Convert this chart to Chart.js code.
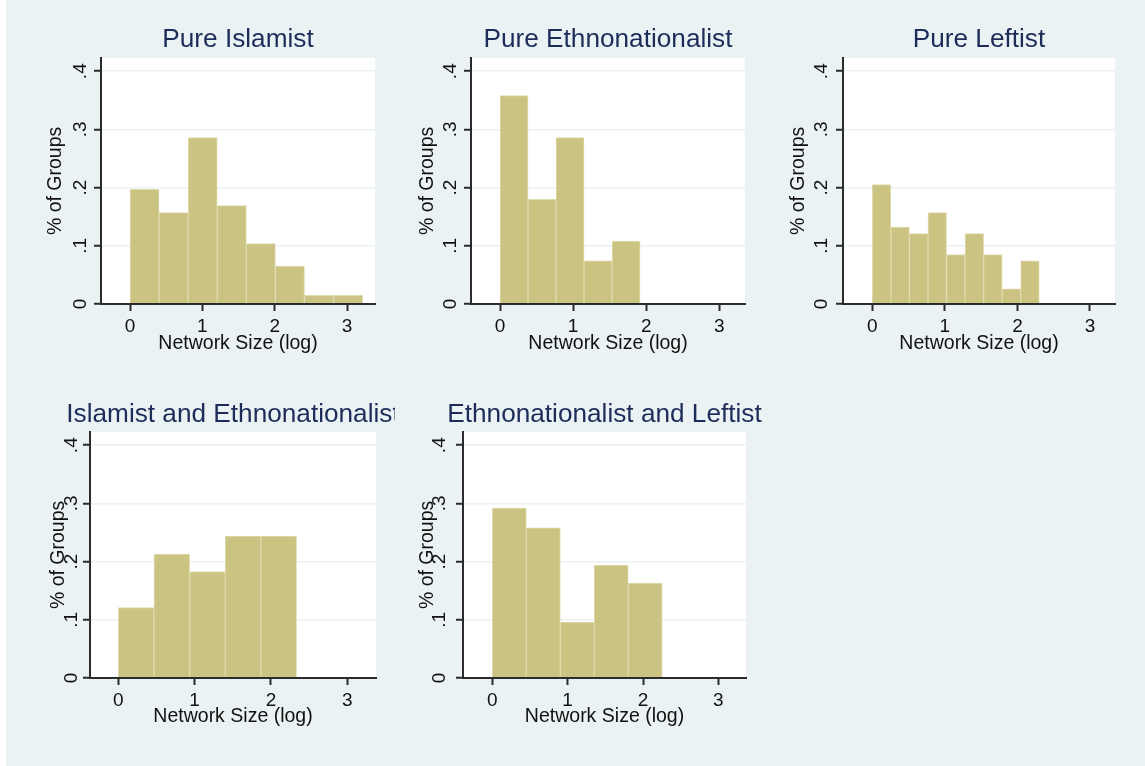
<!DOCTYPE html>
<html>
<head>
<meta charset="utf-8">
<title>Network Size by Ideology</title>
<script src="https://cdn.jsdelivr.net/npm/chart.js@4.4.1/dist/chart.umd.min.js"></script>
<style>
  html, body { margin: 0; padding: 0; background: #ffffff; overflow: hidden; width: 1145px; height: 766px; }
  #frame { position: absolute; left: 6px; top: 0; width: 1139px; height: 766px; background: #eaf2f3; }
  .panel { position: absolute; overflow: hidden; }
  .panel canvas { position: absolute; left: 0; top: 0; }
</style>
</head>
<body>
<div id="frame"></div>
<script>
// ---- data: share of groups per log network-size bin ----
const panelTitles = [
  'Pure Islamist',
  'Pure Ethnonationalist',
  'Pure Leftist',
  'Islamist and Ethnonationalist',
  'Ethnonationalist and Leftist'
];
const binStarts = [0, 0, 0, 0, 0];
const binWidths = [0.402, 0.383, 0.2557, 0.467, 0.451];

const pureIslamist = [0.197, 0.157, 0.286, 0.169, 0.104, 0.065, 0.015, 0.015];
const pureEthnonationalist = [0.358, 0.180, 0.286, 0.074, 0.108];
const pureLeftist = [0.205, 0.132, 0.121, 0.157, 0.085, 0.121, 0.085, 0.026, 0.074];
const islamistEthnonationalist = [0.121, 0.213, 0.183, 0.244, 0.244];
const ethnonationalistLeftist = [0.292, 0.258, 0.096, 0.194, 0.163];

const xTickValues = [0, 1, 2, 3];
const xTickLabels = ['0', '1', '2', '3'];
const yTickValues = [0, 0.1, 0.2, 0.3, 0.4];
const yTickLabels = ['0', '.1', '.2', '.3', '.4'];
const xAxisTitle = 'Network Size (log)';
const yAxisTitle = '% of Groups';

const panelValues = [pureIslamist, pureEthnonationalist, pureLeftist, islamistEthnonationalist, ethnonationalistLeftist];

// ---- styling ----
const FONT = '"Liberation Sans", Arial, Helvetica, sans-serif';
const TITLE_COLOR = '#1e2c5a';
const TEXT_COLOR = '#111111';
const AXIS_COLOR = '#2b2b2b';
const GRID_COLOR = '#eaf2f3';
const BAR_FILL = '#cac382';
const BAR_EDGE = '#e0dbad';
const SIDE = 61; // width reserved for the y axis (mirrored on the right so titles centre over the plot)

// plot-region placement for each panel (page pixels) and axis extents
const layouts = [
  { left: 101, right: 375, top: 58,  bottom: 304, canvasTop: 15,  clipRight: null, xMin: -0.401, xMax: 3.387, yTitlePad: 3.6,  yTickPad: 5.4, tPadTop: 9.2, tPadBottom: 2.2, xH: 51 },
  { left: 471, right: 745, top: 58,  bottom: 304, canvasTop: 15,  clipRight: null, xMin: -0.397, xMax: 3.350, yTitlePad: 5.6,  yTickPad: 5.4, tPadTop: 9.2, tPadBottom: 2.2, xH: 51 },
  { left: 843, right: 1115, top: 58, bottom: 304, canvasTop: 15,  clipRight: null, xMin: -0.404, xMax: 3.345, yTitlePad: 4.6,  yTickPad: 6.4, tPadTop: 9.2, tPadBottom: 2.2, xH: 51 },
  { left: 90,  right: 376, top: 432, bottom: 678, canvasTop: 390, clipRight: 395,  xMin: -0.371, xMax: 3.376, yTitlePad: 17.6, yTickPad: 3.1, tPadTop: 9.4, tPadBottom: 1.0, xH: 50 },
  { left: 463, right: 746, top: 432, bottom: 678, canvasTop: 390, clipRight: null, xMin: -0.389, xMax: 3.367, yTitlePad: 13.6, yTickPad: 8.1, tPadTop: 9.4, tPadBottom: 1.0, xH: 50 }
];

// white plotting region behind the bars
const plotBackground = {
  id: 'plotBackground',
  beforeDraw(chart) {
    const { ctx, chartArea: a } = chart;
    ctx.save();
    ctx.fillStyle = '#ffffff';
    ctx.fillRect(a.left, a.top, a.right - a.left, a.bottom - a.top);
    ctx.restore();
  }
};

function buildPanel(k) {
  const L = layouts[k];
  const canvasLeft = L.left - SIDE;
  const width = SIDE + (L.right - L.left) + SIDE;
  const height = L.bottom + L.xH - L.canvasTop;

  const holder = document.createElement('div');
  holder.className = 'panel';
  holder.style.left = canvasLeft + 'px';
  holder.style.top = L.canvasTop + 'px';
  holder.style.width = (L.clipRight ? L.clipRight - canvasLeft : width) + 'px';
  holder.style.height = height + 'px';
  const canvas = document.createElement('canvas');
  canvas.width = width;
  canvas.height = height;
  canvas.style.width = width + 'px';
  canvas.style.height = height + 'px';
  holder.appendChild(canvas);
  document.body.appendChild(holder);

  const values = panelValues[k];
  const points = values.map((v, i) => ({ x: binStarts[k] + binWidths[k] * (i + 0.5), y: v }));

  new Chart(canvas, {
    type: 'bar',
    data: {
      datasets: [{
        data: points,
        xAxisID: 'x',
        yAxisID: 'y',
        backgroundColor: BAR_FILL,
        borderColor: BAR_EDGE,
        borderWidth: 1,
        barPercentage: 1,
        categoryPercentage: 1
      }]
    },
    options: {
      responsive: false,
      animation: false,
      devicePixelRatio: 1,
      layout: { padding: 0 },
      plugins: {
        legend: { display: false },
        tooltip: { enabled: false },
        title: {
          display: true,
          text: panelTitles[k],
          color: TITLE_COLOR,
          font: { family: FONT, size: 26.2, weight: 'normal', lineHeight: 1.2 },
          padding: { top: L.tPadTop, bottom: L.tPadBottom }
        }
      },
      scales: {
        x: {
          type: 'linear',
          position: 'bottom',
          min: L.xMin,
          max: L.xMax,
          bounds: 'data',
          offset: false,
          afterBuildTicks: s => { s.ticks = xTickValues.map(v => ({ value: v })); },
          afterFit: s => { s.height = L.xH; },
          ticks: {
            autoSkip: false, minRotation: 0, maxRotation: 0, padding: 4,
            color: TEXT_COLOR, font: { family: FONT, size: 19 },
            callback: (v, i) => xTickLabels[i]
          },
          grid: {
            offset: false, drawOnChartArea: false, drawTicks: true,
            tickLength: 7, tickColor: AXIS_COLOR, tickWidth: 2
          },
          border: { display: true, color: AXIS_COLOR, width: 2, z: 1 },
          title: {
            display: true, text: xAxisTitle, color: TEXT_COLOR,
            font: { family: FONT, size: 19.5, lineHeight: 1.2 },
            padding: { top: 0, bottom: 0 }
          }
        },
        y: {
          type: 'linear',
          position: 'left',
          min: 0,
          max: 0.423,
          bounds: 'data',
          afterBuildTicks: s => { s.ticks = yTickValues.map(v => ({ value: v })); },
          afterFit: s => { s.width = SIDE; },
          ticks: {
            minRotation: 90, maxRotation: 90, crossAlign: 'center', padding: L.yTickPad,
            color: TEXT_COLOR, font: { family: FONT, size: 19 },
            callback: (v, i) => yTickLabels[i]
          },
          grid: {
            color: c => (c.tick && c.tick.value === 0) ? 'rgba(0,0,0,0)' : GRID_COLOR,
            lineWidth: 1.5, drawTicks: true, tickLength: 7, tickColor: AXIS_COLOR, tickWidth: 2
          },
          border: { display: true, color: AXIS_COLOR, width: 2, z: 1 },
          title: {
            display: true, text: yAxisTitle, color: TEXT_COLOR,
            font: { family: FONT, size: 19.5, lineHeight: 1.2 },
            padding: { top: L.yTitlePad, bottom: 0 }
          }
        },
        // empty right-hand axis balancing the y axis width
        yPad: {
          type: 'linear',
          position: 'right',
          display: true,
          afterFit: s => { s.width = SIDE; },
          ticks: { display: false },
          grid: { display: false },
          border: { display: false }
        }
      }
    },
    plugins: [plotBackground]
  });
}

for (let k = 0; k < panelTitles.length; k++) buildPanel(k);
</script>
</body>
</html>
